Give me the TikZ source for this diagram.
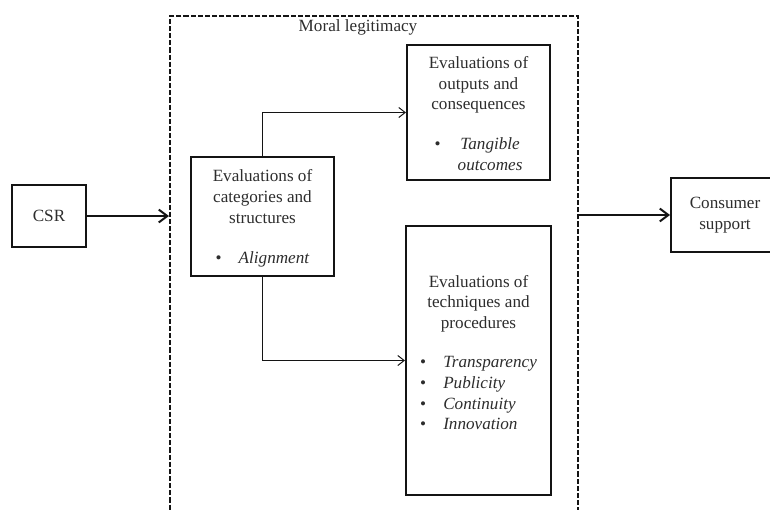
\documentclass[tikz,border=0pt]{standalone}
\usepackage{fontspec}
\setmainfont{Liberation Serif}
\usetikzlibrary{arrows.meta,positioning,fit}
\definecolor{ink}{RGB}{45,45,45}
\definecolor{edge}{RGB}{20,20,20}
\tikzset{
  every picture/.style={color=edge, line width=0.7pt, font=\fontsize{12}{14.5}\selectfont},
  box/.style={draw=edge, line width=1.4pt, fill=white, text=ink, inner sep=2pt, align=center},
  endbox/.style={box, minimum height=43.4pt},
  evalbox/.style={box, minimum width=100.1pt},
  frame/.style={draw=edge, line width=1.4pt, dash pattern=on 3.6pt off 1.4pt, inner sep=0pt},
  flow/.style={-{Straight Barb[length=6pt,width=9pt,line width=1.4pt]}, line width=1.4pt},
  link/.style={-{Straight Barb[length=4.5pt,width=7pt]}, line width=0.7pt},
  lbl/.style={text=ink, inner sep=1pt},
}

\begin{document}
\begin{tikzpicture}[x=0.7pt, y=-0.7pt]
  \useasboundingbox (0,0) rectangle (770,509);
  % dashed frame runs off the bottom of the page
  \coordinate (ftl) at (170,16);
  \coordinate (fbr) at (578,540);
  \node[frame, fit=(ftl)(fbr)] (legit) {};
  \node[lbl] (legitlbl) at (358,27) {Moral legitimacy};

  \node[endbox, minimum width=51.8pt] (csr) at (49,216) {CSR};
  \node[endbox, minimum width=75.6pt, minimum height=51.8pt] (cons) at (725,215) {Consumer\\support};

  \node[evalbox, minimum height=83.3pt] (cat) at (262.5,216.5) {\rule{0pt}{11pt}Evaluations of\\categories and\\structures\\[13.5pt]\textbullet\hspace{12pt}\textit{Alignment}};
  \node[evalbox, minimum height=93.1pt] (outp) at (478.5,112.5) {\rule{0pt}{14pt}Evaluations of\\outputs and\\consequences\\[13.5pt]
    \begin{tabular}[t]{@{}l@{\hspace{12pt}}c@{}}\textbullet & \textit{Tangible}\\ & \textit{outcomes}\end{tabular}};
  \node[evalbox, minimum width=101.5pt, minimum height=188.3pt] (tech) at (478.5,360.5) {Evaluations of\\techniques and\\procedures\\[13pt]
    \begin{tabular}[t]{@{}l@{\hspace{12pt}}l@{}}\textbullet & \textit{Transparency}\\ \textbullet & \textit{Publicity}\\ \textbullet & \textit{Continuity}\\ \textbullet & \textit{Innovation}\end{tabular}\\[0pt]\rule{0pt}{6pt}};

  \draw[flow] (csr) -- (csr -| legit.west);
  \draw[flow] (cons -| legit.east) -- (cons);
  \draw[link] (cat.north) |- (outp.west);
  \draw[link] (cat.south) |- (tech.west);
\end{tikzpicture}
\end{document}
